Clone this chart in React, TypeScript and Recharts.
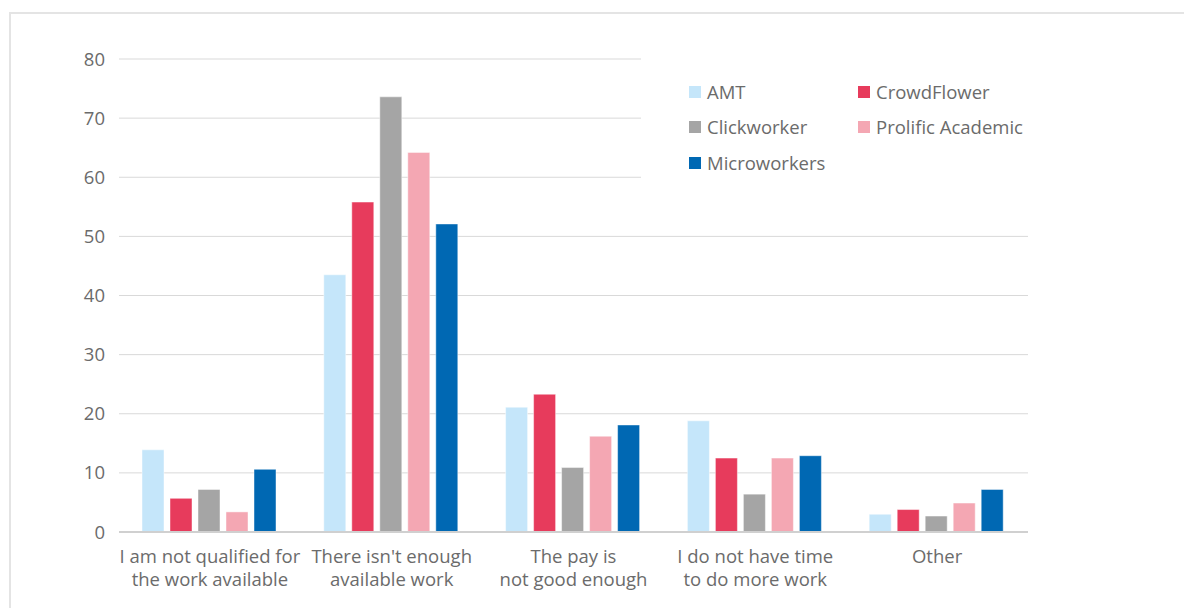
import React from "react";
import { BarChart, Bar, XAxis, YAxis, CartesianGrid, Legend } from "recharts";

const categories = [
  "I am not qualified for\nthe work available",
  "There isn't enough\navailable work",
  "The pay is\nnot good enough",
  "I do not have time\nto do more work",
  "Other",
];

const amt = [13.9, 43.5, 21.1, 18.8, 3.0];
const crowdFlower = [5.7, 55.8, 23.3, 12.5, 3.8];
const clickworker = [7.2, 73.6, 10.9, 6.4, 2.7];
const prolific = [3.4, 64.2, 16.2, 12.5, 4.9];
const microworkers = [10.6, 52.1, 18.1, 12.9, 7.2];

const yTicks = [0, 10, 20, 30, 40, 50, 60, 70, 80];

const series = [
  { key: "AMT", values: amt, color: "#C5E6FA" },
  { key: "CrowdFlower", values: crowdFlower, color: "#E73B5C" },
  { key: "Clickworker", values: clickworker, color: "#A5A5A5" },
  { key: "Prolific Academic", values: prolific, color: "#F4A7B3" },
  { key: "Microworkers", values: microworkers, color: "#0068B3" },
];

const data = categories.map((c, i) => {
  const row: Record<string, any> = { category: c };
  series.forEach((s) => {
    row[s.key] = s.values[i];
  });
  return row;
});

const FONT = "'Open Sans', 'Liberation Sans', sans-serif";
const TEXT = "#6B6B6B";

const XTick = (props: any) => {
  const { x, y, payload } = props;
  const lines = String(payload.value).split("\n");
  return (
    <text x={x} y={y} textAnchor="middle" fill={TEXT} fontSize={18.5} fontFamily={FONT}>
      {lines.map((l, i) => (
        <tspan key={i} x={x} y={y + 30.5 + i * 23}>
          {l}
        </tspan>
      ))}
    </text>
  );
};

const LegendContent = () => {
  const colX = [48, 217];
  const rowY = [42, 77, 113];
  return (
    <div style={{ position: "relative", width: 400, height: 150, background: "#fff" }}>
      {series.map((s, i) => {
        const col = i % 2;
        const row = Math.floor(i / 2);
        return (
          <div
            key={s.key}
            style={{
              position: "absolute",
              left: colX[col],
              top: rowY[row] - 13,
              height: 26,
              display: "flex",
              alignItems: "center",
              whiteSpace: "nowrap",
            }}
          >
            <span style={{ display: "inline-block", width: 12, height: 12, background: s.color, marginRight: 6 }} />
            <span style={{ fontFamily: FONT, fontSize: 18.5, color: TEXT, lineHeight: "26px" }}>{s.key}</span>
          </div>
        );
      })}
    </div>
  );
};

export default function App() {
  return (
    <div style={{ position: "absolute", left: 0, top: 0, width: 1184, height: 608, overflow: "hidden", background: "#fff" }}>
      <div
        style={{
          position: "absolute",
          left: 9,
          top: 12,
          width: 1175,
          height: 596,
          borderTop: "2px solid #E4E4E4",
          borderLeft: "2px solid #E4E4E4",
          boxSizing: "border-box",
        }}
      />
      <div style={{ position: "absolute", left: 0, top: 0 }}>
        <BarChart
          width={1184}
          height={608}
          data={data}
          margin={{ top: 59, right: 156, bottom: 0, left: 0 }}
          barCategoryGap={23}
          barGap={6}
        >
          <CartesianGrid vertical={false} stroke="#D9D9D9" strokeWidth={1} />
          <XAxis
            dataKey="category"
            axisLine={{ stroke: "#D0D0D0", strokeWidth: 2 }}
            tickLine={false}
            tickSize={0}
            tickMargin={0}
            height={76}
            interval={0}
            tick={<XTick />}
          />
          <YAxis
            domain={[0, 80]}
            ticks={yTicks}
            axisLine={false}
            tickLine={false}
            tickSize={0}
            tickMargin={14}
            width={119}
            tick={{ fill: TEXT, fontSize: 18.5, fontFamily: FONT }}
          />
          <Legend
            layout="horizontal"
            verticalAlign="middle"
            align="center"
            content={<LegendContent />}
            wrapperStyle={{ left: 641, top: 50, width: 400, height: 150 }}
          />
          {series.map((s) => (
            <Bar
              key={s.key}
              dataKey={s.key}
              name={s.key}
              fill={s.color}
              stroke="#ffffff"
              strokeOpacity={0.45}
              strokeWidth={1}
              isAnimationActive={false}
            />
          ))}
        </BarChart>
      </div>
    </div>
  );
}
